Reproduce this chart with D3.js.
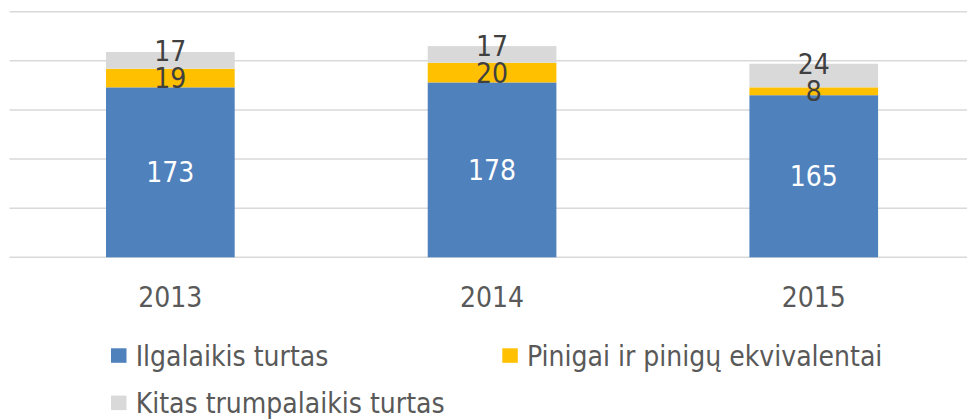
<!DOCTYPE html>
<html>
<head>
<meta charset="utf-8">
<script src="https://cdn.jsdelivr.net/npm/d3@7.9.0/dist/d3.min.js"></script>
<style>
  html, body { margin: 0; padding: 0; background: #fff; }
  svg { display: block; font-family: "DejaVu Sans Condensed", "DejaVu Sans", sans-serif; }
</style>
</head>
<body>
<svg id="chart" width="967" height="419"></svg>
<script>
// chart data
const years = ["2013", "2014", "2015"];
const seriesNames = ["Ilgalaikis turtas", "Pinigai ir pinigų ekvivalentai", "Kitas trumpalaikis turtas"];
const ilgalaikis = [173, 178, 165];
const pinigai = [19, 20, 8];
const kitas = [17, 17, 24];
const colors = ["#4f81bd", "#ffc000", "#d9d9d9"];
const labelColors = ["#ffffff", "#404040", "#404040"];

const width = 967, height = 419;
const fontSize = 28;

const svg = d3.select("#chart");

const x = d3.scaleBand()
    .domain(years)
    .range([9.5, 974.6])
    .paddingInner(0.6)
    .paddingOuter(0.3);

const y = d3.scaleLinear()
    .domain([0, 250])
    .range([257.3, 11.7]);

// gridlines
svg.append("g")
    .selectAll("line")
    .data(y.ticks(5))
    .join("line")
    .attr("x1", 9.5)
    .attr("x2", width)
    .attr("y1", d => y(d))
    .attr("y2", d => y(d))
    .attr("stroke", "#d9d9d9")
    .attr("stroke-width", 1.5);

// stack the series
const rows = years.map((yr, i) => ({
    year: yr,
    s0: ilgalaikis[i],
    s1: pinigai[i],
    s2: kitas[i]
}));
const stacked = d3.stack().keys(["s0", "s1", "s2"])(rows);

const bars = svg.append("g");
stacked.forEach((layer, k) => {
    bars.selectAll(".bar" + k)
        .data(layer)
        .join("rect")
        .attr("class", "bar" + k)
        .attr("x", d => x(d.data.year))
        .attr("width", x.bandwidth())
        .attr("y", d => y(d[1]))
        .attr("height", d => y(d[0]) - y(d[1]))
        .attr("fill", colors[k]);
});

// data labels, centered in segments; the top label is pushed up when it would overlap
const labels = svg.append("g")
    .attr("font-size", fontSize)
    .attr("text-anchor", "middle");

years.forEach((yr, i) => {
    let prevCenter = null;
    stacked.forEach((layer, k) => {
        const d = layer[i];
        let cy = (y(d[0]) + y(d[1])) / 2;
        if (prevCenter !== null && prevCenter - cy < 27) cy = prevCenter - 27;
        prevCenter = cy;
        labels.append("text")
            .attr("x", x(yr) + x.bandwidth() / 2)
            .attr("y", cy)
            .attr("dy", "0.36em")
            .attr("fill", labelColors[k])
            .text(d[1] - d[0]);
    });
});

// x axis labels
svg.append("g")
    .selectAll("text")
    .data(years)
    .join("text")
    .attr("x", d => x(d) + x.bandwidth() / 2)
    .attr("y", 306.7)
    .attr("text-anchor", "middle")
    .attr("font-size", fontSize)
    .attr("fill", "#595959")
    .text(d => d);

// legend
const legendX = 111, legendY = 348.3, colW = 391.3, rowH = 47.3;
const legend = svg.append("g");
seriesNames.forEach((name, i) => {
    const col = i % 2, row = Math.floor(i / 2);
    const g = legend.append("g")
        .attr("transform", `translate(${legendX + col * colW},${legendY + row * rowH})`);
    g.append("rect")
        .attr("width", 15.5)
        .attr("height", 14.5)
        .attr("fill", colors[i]);
    g.append("text")
        .attr("x", 24.7)
        .attr("y", 17.4)
        .attr("font-size", fontSize)
        .attr("fill", "#595959")
        .text(name);
});
</script>
</body>
</html>
